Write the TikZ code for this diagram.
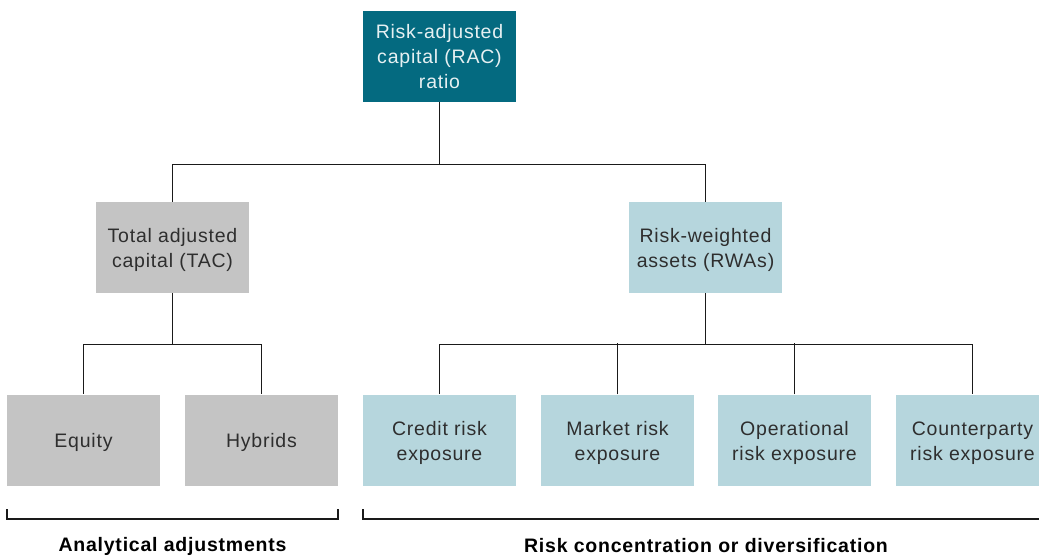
\documentclass[tikz,border=0pt]{standalone}
\usepackage{fontspec}
\setmainfont[LetterSpace=4]{Liberation Sans}
\definecolor{teal}{HTML}{046A80}
\definecolor{gbox}{HTML}{C4C4C4}
\definecolor{bbox}{HTML}{B6D6DD}
\definecolor{ln}{HTML}{1A1A1A}
\newcommand\myup{\rule{0pt}{20pt}}
\begin{document}
\begin{tikzpicture}[x=1pt,y=-1pt,
  box/.style={minimum width=153pt,minimum height=91pt,inner sep=0pt,align=center,
    font=\fontsize{19.5}{25}\selectfont,text=black!82},
  topbox/.style={box,fill=teal,text=white!90!teal},
  graybox/.style={box,fill=gbox},
  bluebox/.style={box,fill=bbox},
  conn/.style={draw=ln,line width=1.3pt},
  lbl/.style={font=\fontsize{19.5}{24}\selectfont\bfseries,text=black}]
\useasboundingbox (0,0) rectangle (1039,558);
\node[topbox] (rac) at (439.5,56.5) {Risk-adjusted\\capital (RAC)\\ratio};
\node[graybox] (tac) at (172.5,247.5) {\myup Total adjusted\\capital (TAC)};
\node[bluebox] (rwa) at (705.5,247.5) {\myup Risk-weighted\\assets (RWAs)};
\node[graybox] (eq) at (83.5,440) {\myup Equity};
\node[graybox] (hy) at (261.5,440) {\myup Hybrids};
\node[bluebox] (cr) at (439.5,440) {\myup Credit risk\\exposure};
\node[bluebox] (mk) at (617.5,440) {\myup Market risk\\exposure};
\node[bluebox] (op) at (794.5,440) {\myup Operational\\risk exposure};
\node[bluebox] (cp) at (972.5,440) {\myup Counterparty\\risk exposure};
\draw[conn] (rac.south) -- ++(0,62) coordinate (j1);
\draw[conn] (j1) -| (tac.north);
\draw[conn] (j1) -| (rwa.north);
\draw[conn] (tac.south) -- ++(0,51) coordinate (j2);
\draw[conn] (j2) -| (eq.north);
\draw[conn] (j2) -| (hy.north);
\draw[conn] (rwa.south) -- ++(0,51) coordinate (j3);
\draw[conn] (j3) -| (cr.north);
\draw[conn] (j3) -| (cp.north);
\draw[conn] (mk.north) -- ++(0,-51);
\draw[conn] (op.north) -- ++(0,-51);
\coordinate (b1l) at (7,509);
\coordinate (b1r) at (338,509);
\coordinate (b2l) at (363,509);
\coordinate (b2r) at (1045,519);
\draw[conn] (b1l) -- ++(0,10) -- ++(331,0) -- (b1r);
\draw[conn] (b2l) -- ++(0,10) -- (b2r);
\node[lbl] (la) at (172.5,546) {Analytical adjustments};
\node[lbl] (lb) at (706,546) {Risk concentration or diversification};
\end{tikzpicture}
\end{document}
